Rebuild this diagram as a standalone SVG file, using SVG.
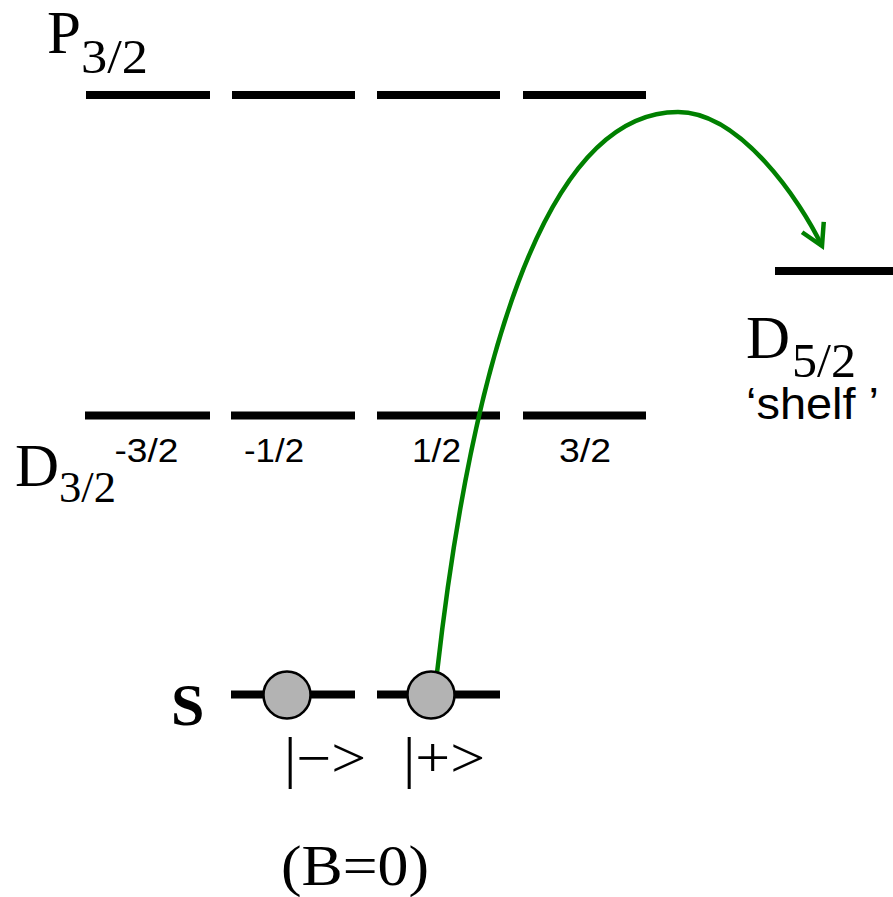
<svg xmlns="http://www.w3.org/2000/svg" width="893" height="897" viewBox="0 0 893 897">
<style>
.lvl{stroke:#000;stroke-width:8;fill:none}
.serif{font-family:"Liberation Serif","Times New Roman",serif;fill:#000}
.sans{font-family:"Liberation Sans",Arial,sans-serif;fill:#000}
.big{font-size:61px}
.ml{font-size:33px;text-anchor:middle}
.dot{fill:#b3b3b3;stroke:#000;stroke-width:2.5}
.arc{fill:none;stroke:#008000;stroke-width:4.5}
</style>
<defs>
<marker id="vhead" markerUnits="userSpaceOnUse" orient="auto" markerWidth="40" markerHeight="40" refX="0" refY="0" viewBox="-30 -20 40 40" overflow="visible">
<path d="M-21,-12 L0,0 L-21,12" fill="none" stroke="#008000" stroke-width="4.5"/>
</marker>
</defs>
<rect width="893" height="897" fill="#fff"/>
<g id="P32">
<path class="lvl" d="M86,95H210M232,95H355M377,95H500M523,95H646"/>
<text class="serif big" x="47" y="53">P</text>
<text class="serif" x="81" y="73" font-size="48" textLength="67" lengthAdjust="spacingAndGlyphs">3/2</text>
</g>
<g id="D32">
<path class="lvl" d="M85,415.5H210M231,415.5H355M377,415.5H500M523,415.5H646"/>
<text class="serif big" x="15" y="486">D</text>
<text class="serif" x="59" y="502" font-size="44" textLength="57" lengthAdjust="spacingAndGlyphs">3/2</text>
<text class="sans ml" x="146.5" y="462" textLength="64" lengthAdjust="spacingAndGlyphs">-3/2</text>
<text class="sans ml" x="274" y="462" textLength="60" lengthAdjust="spacingAndGlyphs">-1/2</text>
<text class="sans ml" x="436.5" y="462" textLength="49" lengthAdjust="spacingAndGlyphs">1/2</text>
<text class="sans ml" x="585" y="462" textLength="52" lengthAdjust="spacingAndGlyphs">3/2</text>
</g>
<g id="D52">
<path class="lvl" d="M775,271H893"/>
<text class="serif big" x="746" y="358">D</text>
<text class="serif" x="792" y="377" font-size="48" textLength="64" lengthAdjust="spacingAndGlyphs">5/2</text>
<text class="sans" x="746" y="419" font-size="45" textLength="133" lengthAdjust="spacingAndGlyphs">‘shelf ’</text>
</g>
<g id="connectors">
<path class="arc" d="M437,673 C470,380 540,112 678,112 C740,112 800,200 822,246" marker-end="url(#vhead)"/>
</g>
<g id="S">
<path class="lvl" d="M231,694.5H355M377,694.5H500"/>
<circle class="dot" cx="287" cy="695" r="23.5"/>
<circle class="dot" cx="431" cy="695" r="23.5"/>
<text class="serif" x="171" y="725" font-size="60" font-weight="bold">S</text>
<text class="serif" x="284" y="777" font-size="56" textLength="82" lengthAdjust="spacingAndGlyphs">|−&gt;</text>
<text class="serif" x="403" y="777" font-size="56" textLength="82" lengthAdjust="spacingAndGlyphs">|+&gt;</text>
<text class="serif" x="355" y="885" font-size="56" text-anchor="middle" textLength="148" lengthAdjust="spacingAndGlyphs">(B=0)</text>
</g>
</svg>
